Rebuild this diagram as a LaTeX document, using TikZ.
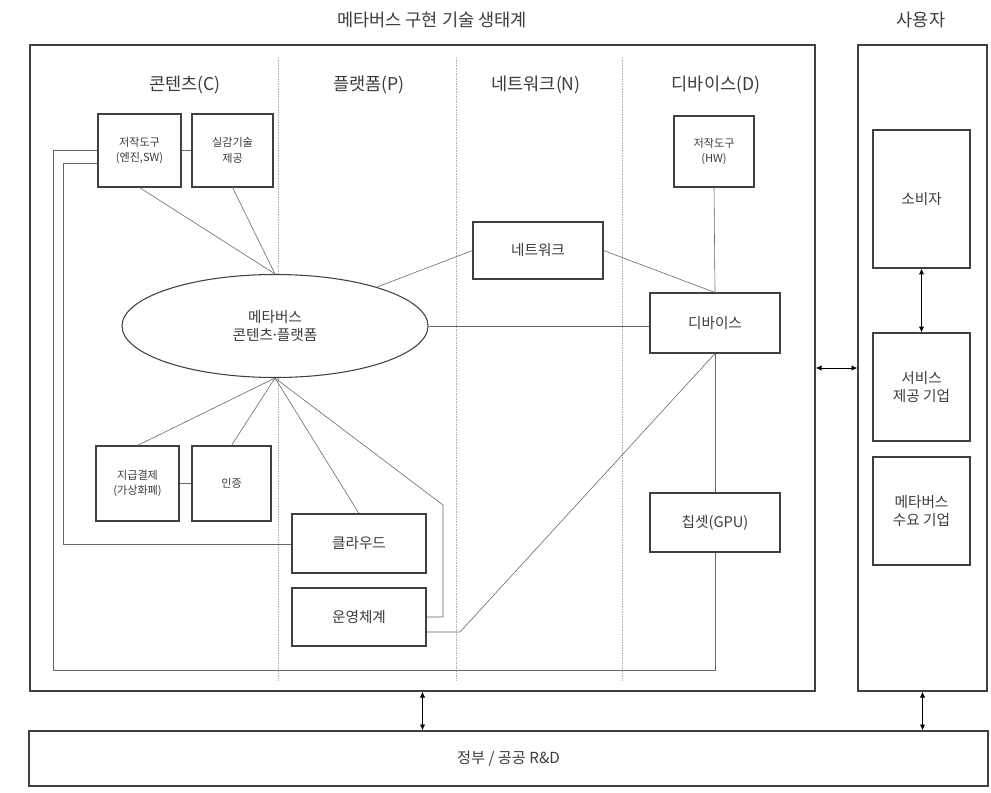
\documentclass[tikz,border=0pt]{standalone}
\usepackage{fontspec}
\setmainfont{Noto Sans CJK KR}
\usepackage{tikz}
\usetikzlibrary{arrows.meta, shapes.geometric}
\definecolor{inkgray}{RGB}{60,60,60}

\begin{document}
\begin{tikzpicture}[x=0.03cm, y=-0.03cm,
    frame/.style={draw=black!75, line width=1.1pt, inner sep=0pt},
    box/.style={draw=black!75, line width=0.9pt, fill=white, inner sep=1pt, align=center, text=inkgray, font=\fontsize{12.5}{16}\selectfont},
    smallbox/.style={box, font=\fontsize{9.5}{13.5}\selectfont},
    hdr/.style={text=inkgray, font=\fontsize{15}{18}\selectfont},
    link/.style={draw=black!60, line width=0.5pt},
    twoway/.style={{Latex[length=5pt,width=4.5pt]}-{Latex[length=5pt,width=4.5pt]}, line width=0.7pt}]
  \useasboundingbox (0,0) rectangle (991,792);

  % Titles
  \node[hdr] (ecotitle) at (432,20) {메타버스 구현 기술 생태계};
  \node[hdr] (usertitle) at (921,20) {사용자};

  % Outer frames
  \node[frame, minimum width=23.55cm, minimum height=19.38cm] (eco) at (422.5,368) {};
  \node[frame, minimum width=3.87cm, minimum height=19.38cm] (user) at (922.5,368) {};
  \node[frame, minimum width=28.77cm, minimum height=1.65cm, text=inkgray, font=\fontsize{13}{16}\selectfont] (rnd) at (508.5,758.5) {정부 / 공공 R\&D};

  % Column dividers
  \foreach \x in {278,456,622}
    \draw[black!30, densely dotted] (\x,58) -- (\x,680);

  % Column headers
  \node[hdr] (colC) at (185,85) {콘텐츠(C)};
  \node[hdr] (colP) at (369,85) {플랫폼(P)};
  \node[hdr] (colN) at (536,85) {네트워크(N)};
  \node[hdr] (colD) at (716,85) {디바이스(D)};

  % Content and platform boxes
  \node[smallbox, minimum width=2.49cm, minimum height=2.19cm] (toolsw) at (139.5,150.5) {저작도구\\(엔진,SW)};
  \node[smallbox, minimum width=2.43cm, minimum height=2.19cm] (real) at (232.5,150.5) {실감기술\\제공};
  \node[box, ellipse, minimum width=9.18cm, minimum height=3.09cm, inner sep=0pt] (meta) at (275,326) {메타버스\\콘텐츠\kern-0.15em·\kern-0.15em플랫폼};
  \node[smallbox, minimum width=2.49cm, minimum height=2.25cm] (pay) at (137.5,483.5) {지급결제\\(가상화폐)};
  \node[smallbox, minimum width=2.37cm, minimum height=2.25cm] (auth) at (231.5,483.5) {인증};
  \node[box, minimum width=4.02cm, minimum height=1.77cm] (cloud) at (359,543.5) {클라우드};
  \node[box, minimum width=4.02cm, minimum height=1.74cm] (os) at (359,617) {운영체계};

  % Network and device boxes
  \node[box, minimum width=3.9cm, minimum height=1.71cm] (net) at (538,250.5) {네트워크};
  \node[smallbox, minimum width=2.4cm, minimum height=2.13cm] (toolhw) at (714,151.5) {저작도구\\(HW)};
  \node[box, minimum width=3.9cm, minimum height=1.8cm] (dev) at (715,323) {디바이스};
  \node[box, minimum width=3.9cm, minimum height=1.77cm] (chip) at (715,522.5) {칩셋(GPU)};

  % User boxes
  \node[box, minimum width=2.91cm, minimum height=4.14cm] (cons) at (921.5,199) {소비자};
  \node[box, minimum width=2.91cm, minimum height=3.24cm] (svc) at (921.5,387) {서비스\\제공 기업};
  \node[box, minimum width=2.91cm, minimum height=3.24cm] (demand) at (921.5,511) {메타버스\\수요 기업};

  % Bend points
  \coordinate (loopL) at (53,670);
  \coordinate (loopI) at (63,544);
  \coordinate (osBend) at (443,505);
  \coordinate (osKnee) at (460,632);

  % Links around the ellipse
  \draw[link] (meta.north) -- (toolsw.south);
  \draw[link] (meta.north) -- (real.south);
  \draw[link] (toolsw.east) -- (real.west);
  \draw[link] (meta.south) -- (pay.north);
  \draw[link] (meta.south) -- (auth.north);
  \draw[link] (pay.east) -- (auth.west);
  \draw[link] (meta.south) -- (cloud.north);
  \draw[link] (meta.south) -- (osBend) |- (os.east);
  \draw[link] (meta) -- (net.west);
  \draw[link] (meta.east) -- (meta.east -| dev.west);
  \draw[link] (net.east) -- (dev.north);

  % Device column
  \draw[link] (toolhw.south) -- (dev.north);
  \draw[link] (dev.south) -- (chip.north);
  \draw[link] ([yshift=-0.45cm]os.east) -- (osKnee) -- (dev.south);

  % Long loops from the authoring tool
  \draw[link] (toolsw.west) -| (loopL) -| (chip.south);
  \draw[link] ([yshift=-0.39cm]toolsw.west) -| (loopI) -- (loopI -| cloud.west);

  % Two-way arrows
  \draw[twoway] (eco.east) -- (user.west);
  \draw[twoway] (eco.south) -- (eco.south |- rnd.north);
  \draw[twoway] (user.south) -- (user.south |- rnd.north);
  \draw[twoway] (cons.south) -- (svc.north);
\end{tikzpicture}
\end{document}
